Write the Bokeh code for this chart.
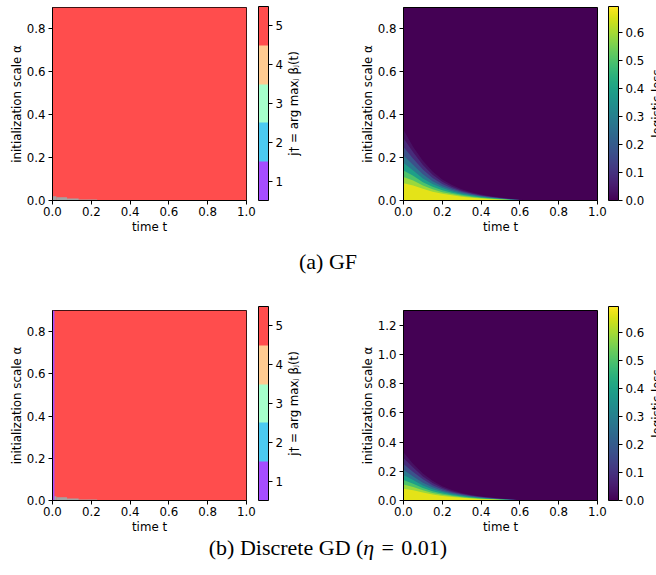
import math
from bokeh.plotting import figure
from bokeh.layouts import column, row
from bokeh.models import (ColorBar, LinearColorMapper, FixedTicker, Range1d, Label, Div,
                          PrintfTickFormatter)
from bokeh.palettes import Viridis256
from bokeh.embed import file_html
from bokeh.resources import INLINE

# ---------------- data ----------------
argmax_classes = [1, 2, 3, 4, 5]
argmax_colors = ["#a64dff", "#4ccaf1", "#a6ffcb", "#ffcb91", "#ff4d4d"]
argmax_main_class = 5              # class filling the whole (t, alpha) plane
tie_color = "#a3a3a3"              # undefined argmax (ties) region
tie_t_edges = [0.0, 0.02, 0.075, 0.135, 0.23]
tie_alpha_top = [0.02, 0.015, 0.009, 0.005]
gd_t0_class = 1                    # first time column in discrete GD
gd_t0_width = 0.01

t_range = [0.0, 1.0]
alpha_range_gf = [0.0, 0.9]
alpha_range_gd = [0.0, 1.3]
x_ticks = [0.0, 0.2, 0.4, 0.6, 0.8, 1.0]
y_ticks_gf = [0.0, 0.2, 0.4, 0.6, 0.8]
y_ticks_gd = [0.0, 0.2, 0.4, 0.6, 0.8, 1.0, 1.2]

loss_max = 0.693
loss_ticks = [0.0, 0.1, 0.2, 0.3, 0.4, 0.5, 0.6]
loss_t = [0.0, 0.05, 0.1, 0.15, 0.2, 0.25, 0.3, 0.35, 0.4, 0.45, 0.5, 0.55, 0.6, 0.65]
# alpha below which the logistic loss exceeds each level (contours)
loss_b_001 = [0.33, 0.25, 0.185, 0.135, 0.098, 0.072, 0.052, 0.038, 0.028, 0.02, 0.014, 0.008, 0.003, 0.0]
loss_b_005 = [0.29, 0.225, 0.165, 0.12, 0.088, 0.064, 0.047, 0.034, 0.025, 0.018, 0.012, 0.007, 0.0025, 0.0]
loss_b_012 = [0.25, 0.195, 0.145, 0.105, 0.077, 0.057, 0.042, 0.031, 0.022, 0.016, 0.011, 0.006, 0.002, 0.0]
loss_b_022 = [0.21, 0.165, 0.122, 0.09, 0.067, 0.05, 0.037, 0.027, 0.02, 0.014, 0.009, 0.005, 0.002, 0.0]
loss_b_033 = [0.175, 0.14, 0.103, 0.077, 0.058, 0.043, 0.032, 0.024, 0.017, 0.012, 0.008, 0.004, 0.0015, 0.0]
loss_b_045 = [0.14, 0.115, 0.085, 0.064, 0.048, 0.036, 0.027, 0.02, 0.014, 0.01, 0.0065, 0.0035, 0.001, 0.0]
loss_b_055 = [0.11, 0.093, 0.07, 0.052, 0.039, 0.03, 0.022, 0.016, 0.012, 0.008, 0.005, 0.0025, 0.001, 0.0]
loss_b_063 = [0.08, 0.07, 0.055, 0.041, 0.031, 0.024, 0.018, 0.013, 0.009, 0.006, 0.004, 0.002, 0.0005, 0.0]
loss_levels = [0.01, 0.05, 0.12, 0.22, 0.33, 0.45, 0.55, 0.63]
loss_band_values = [0.03, 0.085, 0.17, 0.275, 0.39, 0.5, 0.59, 0.665]
loss_boundaries = [loss_b_001, loss_b_005, loss_b_012, loss_b_022,
                   loss_b_033, loss_b_045, loss_b_055, loss_b_063]

caption_a = "(a) GF"
caption_b = "(b) Discrete GD (<i>&eta;</i>\u2004=\u20040.01)"
argmax_label = "j\u2020 = arg max\u2c7c \u03b2\u2c7c(t)"
loss_label = "logistic loss"

FONT = "DejaVu Sans"
FS = "11.8px"


def viridis_of(v):
    i = int(round(v / loss_max * 255))
    return Viridis256[max(0, min(255, i))]


def style(p):
    p.xgrid.visible = False
    p.ygrid.visible = False
    p.outline_line_color = "black"
    p.outline_line_width = 1
    for ax in (p.xaxis[0], p.yaxis[0]):
        ax.major_tick_in = 0
        ax.major_tick_out = 4
        ax.minor_tick_line_color = None
        ax.axis_line_color = "black"
        ax.major_tick_line_color = "black"
        ax.major_label_text_font = FONT
        ax.major_label_text_font_size = FS
        ax.major_label_text_color = "black"
        ax.axis_label_text_font = FONT
        ax.axis_label_text_font_size = FS
        ax.axis_label_text_font_style = "normal"
        ax.axis_label_text_color = "black"
        ax.formatter = PrintfTickFormatter(format="%.1f")
    p.yaxis.major_label_standoff = 3
    p.yaxis.axis_label_standoff = 0
    p.xaxis.major_label_standoff = 2
    p.xaxis.axis_label_standoff = 1
    p.xaxis.ticker = FixedTicker(ticks=x_ticks)
    p.xaxis.axis_label = "time t"
    p.yaxis.axis_label = "initialization scale \u03b1"


def add_cbar(p, mapper, ticks, x_off, fh, fmt):
    cb = ColorBar(color_mapper=mapper, ticker=FixedTicker(ticks=ticks),
                  formatter=PrintfTickFormatter(format=fmt),
                  width=10, height=fh, padding=0, margin=0,
                  location=(x_off, 0),
                  major_tick_in=0, major_tick_out=4,
                  major_tick_line_color="black",
                  minor_tick_line_color=None,
                  label_standoff=3,
                  major_label_text_font=FONT,
                  major_label_text_font_size=FS,
                  major_label_text_color="black",
                  bar_line_color="black",
                  border_line_color=None,
                  background_fill_color=None)
    p.add_layout(cb, "right")
    return cb


def rot_label(text, x):
    return Label(x=x, y=97, x_units="screen", y_units="screen", text=text,
                 angle=math.pi / 2, text_align="center", text_baseline="middle",
                 text_font=FONT, text_font_size=FS, text_color="black")


def argmax_plot(height, top, bottom, gd):
    p = figure(width=330, height=height, output_backend="svg", toolbar_location=None,
               x_range=Range1d(*t_range), y_range=Range1d(*alpha_range_gf),
               min_border_left=52, min_border_right=84,
               min_border_top=top, min_border_bottom=bottom)
    style(p)
    p.yaxis.ticker = FixedTicker(ticks=y_ticks_gf)
    p.quad(left=[t_range[0]], right=[t_range[1]], bottom=[alpha_range_gf[0]],
           top=[alpha_range_gf[1]], fill_color=argmax_colors[argmax_main_class - 1],
           line_color=None)
    p.quad(left=tie_t_edges[:-1], right=tie_t_edges[1:], bottom=[0.0] * len(tie_alpha_top),
           top=tie_alpha_top, fill_color=tie_color, line_color=None)
    if gd:
        p.quad(left=[0.0], right=[gd_t0_width], bottom=[alpha_range_gf[0]],
               top=[alpha_range_gf[1]], fill_color=argmax_colors[gd_t0_class - 1],
               line_color=None)
    mapper = LinearColorMapper(palette=argmax_colors, low=0.5, high=5.5)
    add_cbar(p, mapper, argmax_classes, 12, 194, "%d")
    p.add_layout(rot_label(argmax_label, 7), "right")
    return p


def loss_plot(height, top, bottom, yr, yticks):
    p = figure(width=326, height=height, output_backend="svg", toolbar_location=None,
               x_range=Range1d(*t_range), y_range=Range1d(*yr),
               min_border_left=73, min_border_right=59,
               min_border_top=top, min_border_bottom=bottom)
    style(p)
    p.yaxis.ticker = FixedTicker(ticks=yticks)
    p.background_fill_color = viridis_of(0.0)
    for b, v in zip(loss_boundaries, loss_band_values):
        p.varea(x=loss_t, y1=[0.0] * len(loss_t), y2=b, fill_color=viridis_of(v))
    mapper = LinearColorMapper(palette=Viridis256, low=0.0, high=loss_max)
    add_cbar(p, mapper, loss_ticks, 11, 194, "%.1f")
    # label sits in a left side panel (spare room there) and is drawn at the far right
    p.add_layout(rot_label(loss_label, 313), "left")
    return p


p1 = argmax_plot(236, 7, 35, False)
p2 = loss_plot(236, 7, 35, alpha_range_gf, y_ticks_gf)
p3 = argmax_plot(248, 22, 32, True)
p4 = loss_plot(248, 22, 32, alpha_range_gd, y_ticks_gd)

cap_style = {"text-align": "center", "font-family": "Liberation Serif, serif",
             "font-size": "22px", "color": "black", "width": "656px"}
d1 = Div(text=caption_a, width=656, height=52, margin=0,
         styles=dict(cap_style, **{"line-height": "52px"}))
d2 = Div(text=caption_b, width=656, height=24, margin=0,
         styles=dict(cap_style, **{"line-height": "24px"}))

layout = column(row(p1, p2), d1, row(p3, p4), d2)

open("out.html", "w").write(file_html(layout, INLINE))
